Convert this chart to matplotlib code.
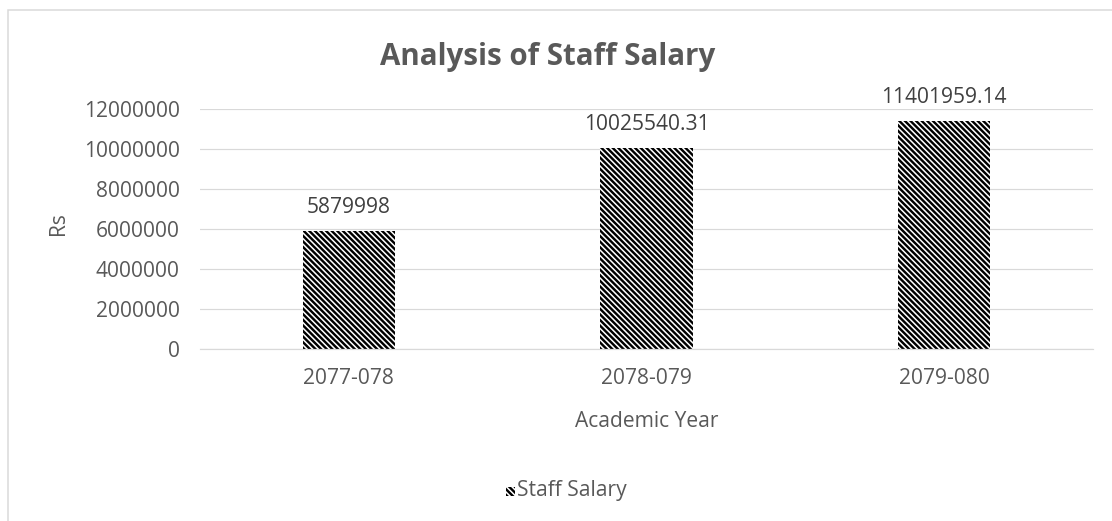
import matplotlib
matplotlib.use("Agg")
import matplotlib.pyplot as plt
from matplotlib.patches import Rectangle

categories = ["2077-078", "2078-079", "2079-080"]
values = [5879998, 10025540.31, 11401959.14]
value_labels = ["5879998", "10025540.31", "11401959.14"]
yticks = [0, 2000000, 4000000, 6000000, 8000000, 10000000, 12000000]

DPI = 84
W, H = 1112, 521


def P(px):
    return px * 72.0 / DPI


plt.rcParams['font.family'] = ['Open Sans', 'DejaVu Sans']
plt.rcParams['hatch.linewidth'] = P(2.4)
gray = '#595959'
HATCH = '\\' * 5

fig = plt.figure(figsize=(W / DPI, H / DPI), dpi=DPI)
ax = fig.add_axes([200 / W, 1 - 349 / H, (1093 - 200) / W, (349 - 109) / H])

x = list(range(len(categories)))
ax.bar(x, values, width=0.31, color='white', edgecolor='black', hatch=HATCH, linewidth=0)
ax.set_xlim(-0.5, 2.5)
ax.set_ylim(0, 12000000)
ax.set_yticks(yticks)
ax.set_yticklabels([str(t) for t in yticks])
ax.set_xticks(x)
ax.set_xticklabels(categories)
ax.tick_params(axis='both', length=0, labelsize=P(21), colors=gray)
ax.tick_params(axis='y', pad=P(20))
ax.tick_params(axis='x', pad=P(19))
ax.grid(axis='y', color='#d9d9d9', linewidth=P(1.2))
ax.set_axisbelow(True)
for s in ['top', 'right', 'left']:
    ax.spines[s].set_visible(False)
ax.spines['bottom'].set_color('#d9d9d9')
ax.spines['bottom'].set_linewidth(P(1.2))

for xi, v, lab in zip(x, values, value_labels):
    ax.annotate(lab, (xi, v), xytext=(0, P(18)), textcoords='offset points',
                ha='center', va='baseline', fontsize=P(21), color='#404040')

fig.text(548 / W, 1 - 65 / H, "Analysis of Staff Salary", ha='center', va='baseline',
         fontsize=P(29.5), fontweight='bold', color=gray)
fig.text(59 / W, 1 - 224 / H, "Rs", rotation=90, ha='center', va='center',
         fontsize=P(21), color=gray)
fig.text(647 / W, 1 - 427 / H, "Academic Year", ha='center', va='baseline',
         fontsize=P(21), color=gray)

# legend
fig.patches.append(Rectangle((506 / W, 1 - 496 / H), 9 / W, 9 / H, transform=fig.transFigure,
                             facecolor='white', edgecolor='black', linewidth=0, hatch=HATCH))
fig.text(517 / W, 1 - 496 / H, "Staff Salary", ha='left', va='baseline',
         fontsize=P(21), color=gray)

fig.patches.append(Rectangle((8 / W, -0.1), 1.1, 1 - 10 / H + 0.1, transform=fig.transFigure,
                             fill=False, edgecolor='#d9d9d9', linewidth=P(1.5)))

fig.savefig("out.png", dpi=DPI)
